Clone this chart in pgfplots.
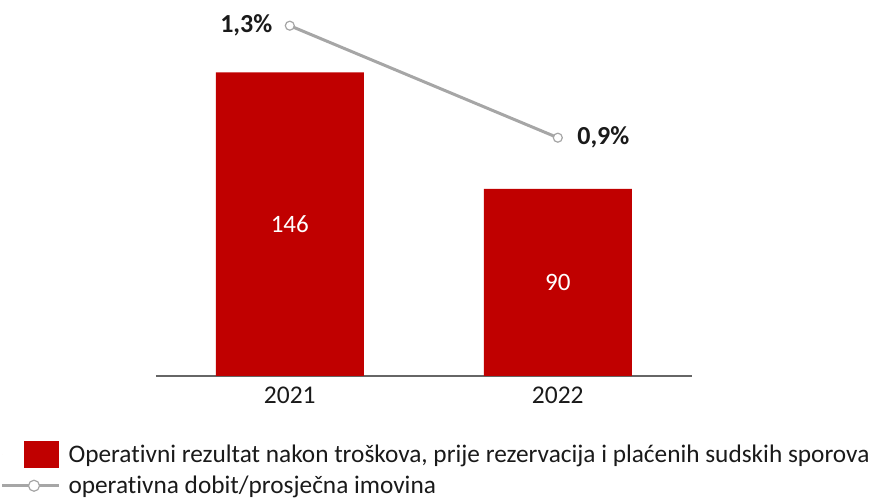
\documentclass[border=0pt]{standalone}
\usepackage{pgfplots}
\pgfplotsset{compat=1.18}
\usepackage{fontspec}
\setmainfont{Carlito}[Ligatures=NoCommon]
\usetikzlibrary{calc}
\definecolor{barred}{HTML}{C00000}
\definecolor{linegray}{HTML}{A6A6A6}
\definecolor{axgray}{HTML}{666666}
\definecolor{txt}{HTML}{1A1A1A}
\begin{document}
\begin{tikzpicture}
\begin{axis}[name=ax, scale only axis, width=536pt, height=376pt,
 xmin=-0.5, xmax=1.5, ymin=0, ymax=180.77,
 /pgf/number format/assume math mode=true,
 axis x line=bottom, axis y line=none,
 axis line style={-, draw=axgray, line width=1.5pt},
 xtick={0,1}, xticklabels={2021,2022}, major tick length=0pt, ytick=\empty,
 xticklabel style={font=\fontsize{25.5}{30}\selectfont, text=txt, yshift=-7pt},
 legend style={at={(rel axis cs:-0.2901,-0.1729)}, anchor=north west, draw=none, fill=none,
   inner sep=0pt, font=\fontsize{25.3}{30}\selectfont, text=txt, column sep=8pt, row sep=8pt,
   nodes={inner sep=0pt}},
 legend cell align=left, clip=false]
\addplot[ybar, bar width=148pt, fill=barred, draw=none,
  legend image code/.code={\path (0pt,0pt) -- (0pt,0pt); \fill[barred] (22pt,-13.5pt) rectangle (57pt,13.5pt);}]
  coordinates {(0,146) (1,90)};
\addlegendentry{Operativni rezultat nakon troškova, prije rezervacija i plaćenih sudskih sporova}
\addlegendimage{legend image code/.code={\draw[linegray, line width=3pt] (0pt,0pt) -- (57pt,0pt); \draw[linegray, fill=white, line width=1.2pt] (32pt,0pt) circle (5.5pt);}}
\addlegendentry{operativna dobit/prosječna imovina}
\addplot[draw=none, mark=none, forget plot, point meta=explicit, nodes near coords,
  every node near coord/.style={anchor=center, text=white, font=\fontsize{25}{30}\selectfont}]
  coordinates {(0,73)[146] (1,45)[90]};
\end{axis}
\begin{axis}[scale only axis, width=536pt, height=376pt, at={(ax.south west)}, anchor=south west,
 xmin=-0.5, xmax=1.5, ymin=0.0489, ymax=1.3918, axis lines=none, clip=false]
\addplot[linegray, line width=3pt, mark=*, mark size=4.5pt,
  mark options={fill=white, draw=linegray, line width=1.2pt}]
  coordinates {(0,1.3) (1,0.9)};
\addplot[draw=none, mark=none, point meta=explicit symbolic, nodes near coords,
  every node near coord/.style={anchor=east, font=\bfseries\fontsize{26}{30}\selectfont, text=txt, xshift=-14pt}]
  coordinates {(0,1.3)[1,3\%]};
\addplot[draw=none, mark=none, point meta=explicit symbolic, nodes near coords,
  every node near coord/.style={anchor=west, font=\bfseries\fontsize{26}{30}\selectfont, text=txt, xshift=16pt}]
  coordinates {(1,0.9)[0,9\%]};
\end{axis}
\pgfresetboundingbox
\path[use as bounding box] ($(ax.south west)+(-155.8pt,-126pt)$) rectangle ($(ax.north east)+(180.2pt,0pt)$);
\end{tikzpicture}
\end{document}
